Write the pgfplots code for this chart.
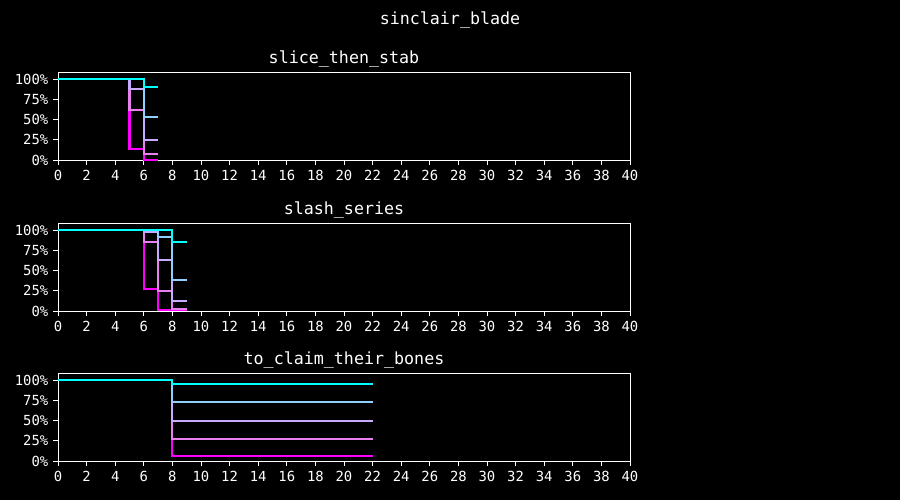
\documentclass[border=0pt]{standalone}
\usepackage{fontspec}
\setmainfont{DejaVu Sans Mono}
\usepackage{pgfplots}
\pgfplotsset{compat=1.18}
\definecolor{c1}{HTML}{00FFFF}
\definecolor{c2}{HTML}{90D0FF}
\definecolor{c3}{HTML}{C8AAFF}
\definecolor{c4}{HTML}{E880F0}
\definecolor{c5}{HTML}{FF00FF}
\pgfplotsset{
  panel/.style={
    scale only axis, width=411.84pt, height=63.36pt,
    anchor=south west,
    xmin=0, xmax=40, ymin=0, ymax=1.09,
    xtick={0,2,...,40},
    ytick={0,0.25,0.5,0.75,1},
    yticklabels={0\%,25\%,50\%,75\%,100\%},
    /pgf/number format/assume math mode=true,
    axis line style={white, line width=0.6pt},
    tick style={white, line width=0.6pt},
    tick align=outside, major tick length=3.5pt,
    xtick pos=bottom, ytick pos=left,
    ticklabel style={font=\fontsize{10}{12}\selectfont, text=white},
    xticklabel style={text height=7pt, text depth=1pt, yshift=-0.5pt},
    title style={font=\fontsize{12}{14}\selectfont, text=white, yshift=-6pt},
    every axis plot/.append style={const plot mark left, line width=1.45pt, mark=none},
    clip=false,
  }
}
\begin{document}
\begin{tikzpicture}[x=1pt,y=1pt]
\fill[black] (0,0) rectangle (648,360);
\useasboundingbox (0,0) rectangle (648,360);
\node[text=white, font=\fontsize{12}{14}\selectfont] at (324,345.5) {sinclair\_blade};
\begin{axis}[panel, at={(41.76pt,244.8pt)}, title={slice\_then\_stab}]
\addplot[c5] coordinates {(0,1)(5,0.14)(6,0.004)(7,0.004)};
\addplot[c4] coordinates {(0,1)(5,0.62)(6,0.078)(7,0.078)};
\addplot[c3] coordinates {(0,1)(5,0.877)(6,0.25)(7,0.25)};
\addplot[c2] coordinates {(0,1)(6,0.53)(7,0.53)};
\addplot[c1] coordinates {(0,1)(6,0.90)(7,0.90)};
\end{axis}
\begin{axis}[panel, at={(41.76pt,136.08pt)}, title={slash\_series}]
\addplot[c5] coordinates {(0,1)(6,0.27)(7,0.01)(9,0.01)};
\addplot[c4] coordinates {(0,1)(6,0.857)(7,0.248)(8,0.024)(9,0.024)};
\addplot[c3] coordinates {(0,1)(6,0.98)(7,0.626)(8,0.126)(9,0.126)};
\addplot[c2] coordinates {(0,1)(7,0.918)(8,0.38)(9,0.38)};
\addplot[c1] coordinates {(0,1)(8,0.857)(9,0.857)};
\end{axis}
\begin{axis}[panel, at={(41.76pt,28.08pt)}, title={to\_claim\_their\_bones}]
\addplot[c5] coordinates {(0,1)(8,0.057)(22,0.057)};
\addplot[c4] coordinates {(0,1)(8,0.278)(22,0.278)};
\addplot[c3] coordinates {(0,1)(8,0.50)(22,0.50)};
\addplot[c2] coordinates {(0,1)(8,0.73)(22,0.73)};
\addplot[c1] coordinates {(0,1)(8,0.948)(22,0.948)};
\end{axis}
\end{tikzpicture}
\end{document}
